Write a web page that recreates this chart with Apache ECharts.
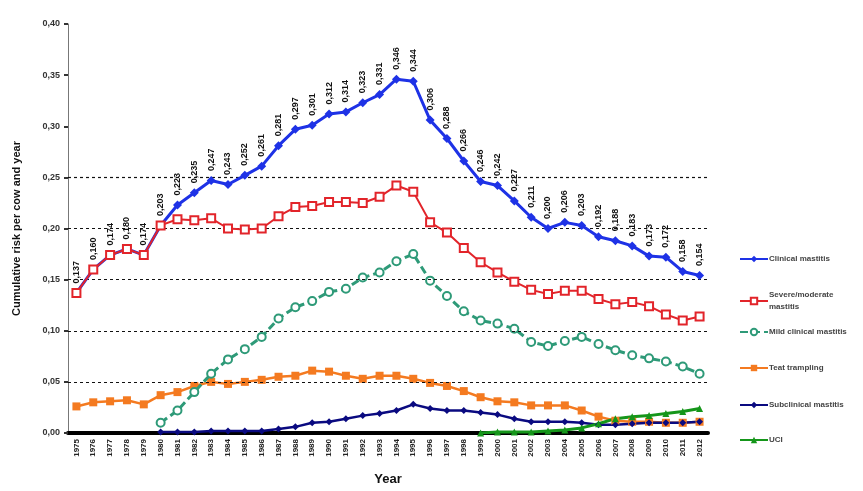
<!DOCTYPE html>
<html>
<head>
<meta charset="utf-8">
<script src="https://cdn.jsdelivr.net/npm/echarts@6/dist/echarts.min.js"></script>
<style>
  html, body { margin: 0; padding: 0; background: #fff; }
  #chart { width: 863px; height: 491px; }
</style>
</head>
<body>
<div id="chart"></div>
<script>
// Years on the category axis
const years = [];
for (let y = 1975; y <= 2012; y++) years.push(String(y));

// Cumulative risk per cow and year, one array per disease
const clinicalMastitis = [0.137, 0.160, 0.174, 0.180, 0.174, 0.203, 0.223, 0.235, 0.247, 0.243,
  0.252, 0.261, 0.281, 0.297, 0.301, 0.312, 0.314, 0.323, 0.331, 0.346,
  0.344, 0.306, 0.288, 0.266, 0.246, 0.242, 0.227, 0.211, 0.200, 0.206,
  0.203, 0.192, 0.188, 0.183, 0.173, 0.172, 0.158, 0.154];

const severeMastitis = [0.137, 0.160, 0.174, 0.180, 0.174, 0.203, 0.209, 0.208, 0.210, 0.200,
  0.199, 0.200, 0.212, 0.221, 0.222, 0.226, 0.226, 0.225, 0.231, 0.242,
  0.236, 0.206, 0.196, 0.181, 0.167, 0.157, 0.148, 0.140, 0.136, 0.139,
  0.139, 0.131, 0.126, 0.128, 0.124, 0.116, 0.110, 0.114];

const mildMastitis = [null, null, null, null, null, 0.010, 0.022, 0.040, 0.058, 0.072,
  0.082, 0.094, 0.112, 0.123, 0.129, 0.138, 0.141, 0.152, 0.157, 0.168,
  0.175, 0.149, 0.134, 0.119, 0.110, 0.107, 0.102, 0.089, 0.085, 0.090,
  0.094, 0.087, 0.081, 0.076, 0.073, 0.070, 0.065, 0.058];

const teatTrampling = [0.026, 0.030, 0.031, 0.032, 0.028, 0.037, 0.040, 0.046, 0.050, 0.048,
  0.050, 0.052, 0.055, 0.056, 0.061, 0.060, 0.056, 0.053, 0.056, 0.056,
  0.053, 0.049, 0.046, 0.041, 0.035, 0.031, 0.030, 0.027, 0.027, 0.027,
  0.022, 0.016, 0.012, 0.011, 0.011, 0.010, 0.010, 0.011];

const subclinicalMastitis = [null, null, null, null, null, 0.001, 0.001, 0.001, 0.002, 0.002,
  0.002, 0.002, 0.004, 0.006, 0.010, 0.011, 0.014, 0.017, 0.019, 0.022,
  0.028, 0.024, 0.022, 0.022, 0.020, 0.018, 0.014, 0.011, 0.011, 0.011,
  0.010, 0.008, 0.008, 0.009, 0.010, 0.010, 0.010, 0.011];

const uci = [null, null, null, null, null, null, null, null, null, null,
  null, null, null, null, null, null, null, null, null, null,
  null, null, null, null, 0.000, 0.001, 0.001, 0.001, 0.002, 0.003,
  0.005, 0.009, 0.014, 0.016, 0.017, 0.019, 0.021, 0.024];

// Dashed reference levels
const guideLevels = [0.05, 0.10, 0.15, 0.20, 0.25];

const seriesNames = ['Clinical mastitis', 'Severe/moderate mastitis', 'Mild clinical mastitis',
  'Teat trampling', 'Subclinical mastitis', 'UCI'];

// Vertical offset of each legend entry
const legendTops = [253, 289, 326, 362, 399, 434];

const fmt = v => v.toFixed(2).replace('.', ',');
const fmt3 = v => v.toFixed(3).replace('.', ',');

const chart = echarts.init(document.getElementById('chart'));

const legends = seriesNames.map((name, i) => ({
  orient: 'vertical',
  left: 739,
  top: legendTops[i],
  padding: 0,
  itemWidth: 28,
  itemHeight: 8,
  data: [name],
  formatter: n => n === 'Severe/moderate mastitis' ? 'Severe/moderate\nmastitis' : n,
  textStyle: { fontSize: 8, fontWeight: 'bold', color: '#444', lineHeight: 12, padding: [0, 0, 0, -4] }
}));

chart.setOption({
  animation: false,
  backgroundColor: '#fff',
  grid: { left: 68, right: 155, top: 24, bottom: 56 },
  textStyle: { fontFamily: 'Liberation Sans, Arial, sans-serif' },
  legend: legends,
  xAxis: {
    type: 'category',
    data: years,
    boundaryGap: true,
    name: 'Year',
    nameLocation: 'middle',
    nameGap: 40,
    nameTextStyle: { fontSize: 13, fontWeight: 'bold', color: '#111' },
    axisLine: { lineStyle: { color: '#000', width: 4 } },
    axisTick: { show: false },
    axisLabel: { rotate: 90, interval: 0, fontSize: 8, fontWeight: 'bold', color: '#222', margin: 6 }
  },
  yAxis: {
    type: 'value',
    min: 0,
    max: 0.4,
    interval: 0.05,
    name: 'Cumulative risk per cow and year',
    nameLocation: 'middle',
    nameGap: 46,
    nameTextStyle: { fontSize: 11, fontWeight: 'bold', color: '#111' },
    axisLine: { show: true, lineStyle: { color: '#777', width: 1 } },
    axisTick: { show: true, inside: false, length: 4, lineStyle: { color: '#333', width: 2 } },
    axisLabel: { formatter: fmt, fontSize: 9, fontWeight: 'bold', color: '#333', margin: 8 },
    splitLine: { show: false }
  },
  series: [
    {
      name: seriesNames[0],
      type: 'line',
      data: clinicalMastitis,
      z: 5,
      symbol: 'diamond',
      symbolSize: 9,
      lineStyle: { color: '#1E32E6', width: 3 },
      itemStyle: { color: '#1E32E6' },
      label: {
        show: true,
        position: 'top',
        rotate: 90,
        align: 'left',
        verticalAlign: 'middle',
        distance: 5,
        fontSize: 9,
        fontWeight: 'bold',
        color: '#111',
        formatter: p => fmt3(p.value)
      },
      markLine: {
        silent: true,
        symbol: 'none',
        label: { show: false },
        lineStyle: { color: '#111', type: [3, 3], width: 1.2 },
        data: guideLevels.map(v => ({ yAxis: v }))
      }
    },
    {
      name: seriesNames[1],
      type: 'line',
      data: severeMastitis,
      z: 6,
      symbol: 'emptyRect',
      symbolSize: 8,
      lineStyle: { color: '#E2242A', width: 2 },
      itemStyle: { color: '#E2242A', borderWidth: 1.5 }
    },
    {
      name: seriesNames[2],
      type: 'line',
      data: mildMastitis,
      z: 4,
      symbol: 'emptyCircle',
      symbolSize: 8,
      lineStyle: { color: '#2E9A78', width: 3, type: [8, 4] },
      itemStyle: { color: '#2E9A78', borderWidth: 1 }
    },
    {
      name: seriesNames[3],
      type: 'line',
      data: teatTrampling,
      z: 3,
      symbol: 'rect',
      symbolSize: 8,
      lineStyle: { color: '#F47A20', width: 2.5 },
      itemStyle: { color: '#F47A20' }
    },
    {
      name: seriesNames[4],
      type: 'line',
      data: subclinicalMastitis,
      z: 3,
      symbol: 'diamond',
      symbolSize: 7,
      lineStyle: { color: '#0A0A80', width: 2.5 },
      itemStyle: { color: '#0A0A80' }
    },
    {
      name: seriesNames[5],
      type: 'line',
      data: uci,
      z: 3,
      symbol: 'triangle',
      symbolSize: 7,
      lineStyle: { color: '#15961A', width: 3 },
      itemStyle: { color: '#15961A' }
    }
  ]
});
</script>
</body>
</html>
